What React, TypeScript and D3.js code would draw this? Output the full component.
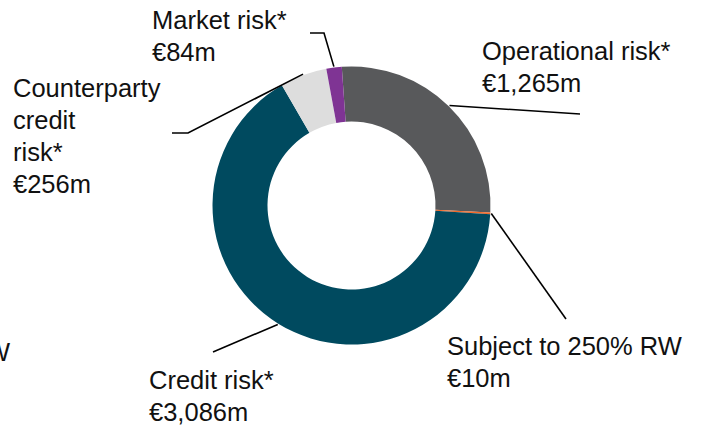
import React from 'react';
import * as d3 from 'd3';

const width = 704;
const height = 426;
const cx = 351.5;
const cy = 205.5;
const outerR = 139;
const innerR = 84;
const rotation = -0.07;

// risk-weighted exposure amounts, €m, clockwise from the top
const categories = ['Operational risk*', 'Subject to 250% RW', 'Credit risk*', 'Counterparty credit risk*', 'Market risk*'];
const values = [1265, 10, 3086, 256, 84];
const valueLabels = ['€1,265m', '€10m', '€3,086m', '€256m', '€84m'];
const colors = ['#58595b', '#f26a2a', '#004a5f', '#dddddd', '#7f3494'];

// label text lines per slice
const labelLines = [
  ['Operational risk*'],
  ['Subject to 250% RW'],
  ['Credit risk*'],
  ['Counterparty', 'credit', 'risk*'],
  ['Market risk*'],
];

// layout: where the leader ends (elbow points) and where the text sits
const leaders = [
  [[580, 114]],
  [[566, 319]],
  [[213, 352]],
  [[188, 133], [172, 133]],
  [[324, 33], [310, 33]],
];
const labelPos = [
  { x: 482, y: 60 },
  { x: 447, y: 355 },
  { x: 149, y: 389 },
  { x: 13, y: 97 },
  { x: 152, y: 29 },
];
const lineStep = 32;

const App = () => {
  const pie = d3
    .pie<number>()
    .sort(null)
    .startAngle(rotation)
    .endAngle(2 * Math.PI + rotation);
  const arcs = pie(values);
  const arc = d3.arc<d3.PieArcDatum<number>>().innerRadius(innerR).outerRadius(outerR);

  return (
    <svg
      width={width}
      height={height}
      style={{ position: 'absolute', left: 0, top: 0, background: 'white' }}
      fontFamily="'Liberation Sans', Arial, sans-serif"
      fontSize={25.5}
    >
      <g transform={`translate(${cx},${cy})`}>
        {arcs.map((a, i) => (
          <path key={categories[i]} d={arc(a) || ''} fill={colors[i]} />
        ))}
      </g>
      {arcs.map((a, i) => {
        const mid = (a.startAngle + a.endAngle) / 2;
        const sx = cx + (outerR + 1) * Math.sin(mid);
        const sy = cy - (outerR + 1) * Math.cos(mid);
        const pts = [[sx, sy], ...leaders[i]];
        return (
          <path
            key={'l' + i}
            d={d3.line()(pts as [number, number][]) || ''}
            fill="none"
            stroke="#000"
            strokeWidth={1.6}
          />
        );
      })}
      {labelPos.map((p, i) => (
        <text key={'t' + i} x={p.x} y={p.y} fill="#111">
          {[...labelLines[i], valueLabels[i]].map((line, j) => (
            <tspan key={j} x={p.x} y={p.y + j * lineStep}>
              {line}
            </tspan>
          ))}
        </text>
      ))}
      <text x={10} y={361} textAnchor="end" fill="#111">
        RW
      </text>
    </svg>
  );
};

export default App;
